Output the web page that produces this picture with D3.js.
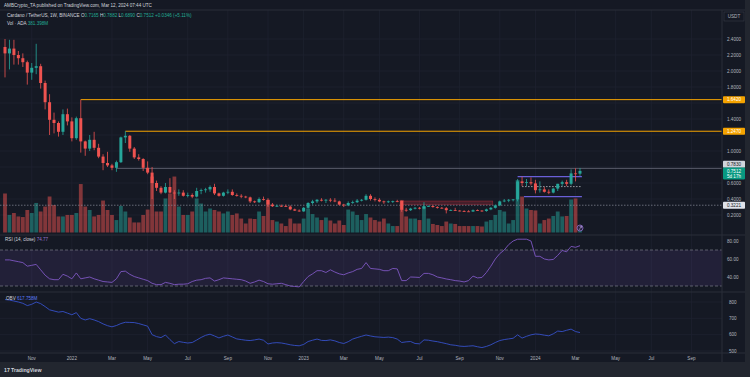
<!DOCTYPE html>
<html>
<head>
<meta charset="utf-8">
<script src="https://cdn.jsdelivr.net/npm/d3@7"></script>
<style>
  body { margin: 0; background: #151924; }
  svg { display: block; }
  text { font-family: "Liberation Sans", Arial, sans-serif; }
</style>
</head>
<body>
<svg id="chart" width="750" height="377"></svg>
<script>
// ADA / USDT weekly, Binance
const firstWeek = "2021-09-20";

const opens = [2.30,2.22,2.28,2.20,2.16,2.11,1.98,2.04,2.06,1.85,1.61,1.39,1.35,1.24,1.46,1.37,1.16,1.41,1.12,1.03,
  1.14,1.04,0.93,0.85,0.82,0.79,0.86,1.17,1.19,1.03,0.92,0.90,0.79,0.73,0.60,0.54,0.48,0.55,0.48,0.47,
  0.48,0.44,0.45,0.43,0.50,0.51,0.52,0.55,0.47,0.44,0.48,0.49,0.45,0.44,0.43,0.42,0.37,0.36,0.40,0.39,
  0.33,0.31,0.315,0.31,0.305,0.27,0.255,0.245,0.29,0.35,0.37,0.39,0.38,0.39,0.38,0.37,0.33,0.32,0.35,0.36,
  0.38,0.39,0.44,0.40,0.39,0.37,0.36,0.37,0.372,0.375,0.265,0.26,0.28,0.29,0.28,0.31,0.312,0.30,0.29,0.285,
  0.26,0.262,0.255,0.25,0.245,0.243,0.26,0.255,0.25,0.27,0.29,0.32,0.37,0.38,0.39,0.395,0.62,0.60,0.61,0.595,
  0.51,0.52,0.49,0.48,0.53,0.59,0.61,0.59,0.72,0.7165];
const highs = [2.40,2.39,2.39,2.25,2.22,2.13,2.10,2.34,2.09,1.88,1.71,1.48,1.37,1.52,1.53,1.42,1.43,1.642,1.13,1.20,
  1.24,1.09,0.96,0.99,0.84,0.88,1.18,1.247,1.20,1.05,0.96,0.91,0.87,0.80,0.63,0.56,0.60,0.66,0.51,0.52,
  0.51,0.48,0.47,0.54,0.53,0.54,0.57,0.59,0.48,0.49,0.52,0.52,0.47,0.46,0.44,0.43,0.38,0.42,0.43,0.41,
  0.35,0.33,0.33,0.33,0.32,0.28,0.27,0.30,0.36,0.39,0.40,0.41,0.40,0.41,0.41,0.38,0.34,0.37,0.38,0.40,
  0.40,0.46,0.46,0.42,0.41,0.38,0.38,0.38,0.39,0.38,0.29,0.29,0.30,0.30,0.36,0.32,0.32,0.31,0.30,0.30,
  0.27,0.29,0.26,0.26,0.26,0.27,0.27,0.26,0.28,0.30,0.33,0.38,0.40,0.40,0.40,0.65,0.68,0.65,0.67,0.64,
  0.62,0.55,0.52,0.54,0.59,0.63,0.64,0.77,0.783,0.7882];
const lows = [1.92,2.02,2.08,2.08,2.05,1.83,1.89,1.96,1.78,1.52,1.20,1.22,1.18,1.20,1.32,1.12,1.14,0.98,0.94,1.00,
  1.01,0.91,0.76,0.80,0.76,0.74,0.85,1.10,0.99,0.90,0.88,0.75,0.71,0.40,0.50,0.46,0.47,0.47,0.40,0.44,
  0.43,0.42,0.41,0.42,0.46,0.48,0.49,0.45,0.43,0.43,0.46,0.44,0.43,0.41,0.41,0.35,0.35,0.35,0.38,0.30,
  0.30,0.30,0.30,0.30,0.26,0.25,0.24,0.24,0.28,0.33,0.35,0.37,0.35,0.36,0.36,0.32,0.30,0.31,0.34,0.35,
  0.37,0.38,0.38,0.37,0.36,0.34,0.35,0.35,0.36,0.24,0.24,0.25,0.27,0.27,0.27,0.30,0.29,0.28,0.28,0.22,
  0.25,0.25,0.245,0.24,0.24,0.24,0.25,0.24,0.24,0.26,0.28,0.31,0.36,0.36,0.37,0.37,0.56,0.56,0.57,0.47,
  0.48,0.48,0.46,0.47,0.50,0.56,0.56,0.57,0.62,0.689];
const closes = [2.22,2.28,2.20,2.16,2.11,1.98,2.04,2.06,1.85,1.61,1.39,1.35,1.24,1.46,1.37,1.16,1.41,1.12,1.03,1.14,
  1.04,0.93,0.85,0.82,0.79,0.86,1.17,1.19,1.03,0.92,0.90,0.79,0.73,0.60,0.54,0.48,0.55,0.48,0.47,0.48,
  0.44,0.45,0.43,0.50,0.51,0.52,0.55,0.47,0.44,0.48,0.49,0.45,0.44,0.43,0.42,0.37,0.36,0.40,0.39,0.33,
  0.31,0.315,0.31,0.305,0.27,0.255,0.245,0.29,0.35,0.37,0.39,0.38,0.39,0.38,0.37,0.33,0.32,0.35,0.36,0.38,
  0.39,0.44,0.40,0.39,0.37,0.36,0.37,0.372,0.37,0.265,0.26,0.28,0.29,0.28,0.31,0.312,0.30,0.29,0.285,0.26,
  0.262,0.255,0.25,0.245,0.243,0.26,0.255,0.25,0.27,0.29,0.32,0.37,0.38,0.39,0.395,0.62,0.60,0.61,0.595,0.51,
  0.52,0.49,0.48,0.53,0.59,0.61,0.59,0.72,0.7165,0.7512];
// weekly volume, millions of ADA
const volumes = [2600,1170,1300,1070,1030,1500,1300,1970,1400,1730,2400,1830,1070,1070,1170,1170,1300,3230,1730,1500,
  1070,1170,2130,1500,1170,830,1770,1400,1000,670,670,1170,1530,3730,1400,1400,2270,2600,3730,1730,
  1170,1170,1400,2270,1930,1400,1600,1500,1400,1270,1400,1170,1270,930,600,930,900,1400,1100,2170,
  830,730,600,430,930,600,600,930,1600,1230,1000,830,1000,800,600,800,500,1530,1400,1170,
  830,1230,1000,830,730,930,600,430,430,2170,1070,930,930,830,1730,930,570,500,430,730,
  600,570,430,430,430,430,430,400,730,830,1170,1500,1400,600,830,3500,2400,1600,1500,1470,
  600,830,930,1100,1400,1070,1100,2200,2270,381];
const rsiValues = [59,59,58,57,56,52,53,54,48,42,38,37,37,43,41,38,44.5,38,39,40,
  38,36.5,35,34.5,34,38,46,46.5,43,40.5,39,37.5,36,33,31.5,31.5,34,33,31.5,32,
  32,32.5,35,36.5,37,38.5,39,35.5,37,39,38.5,38,37.5,37,35.5,33,34.5,36.5,35,32.5,
  32,32.5,33,31.5,30,29.5,29,35,40.5,43.5,47,47,45,48,45.5,43.5,42.5,44.5,46,48.5,
  49.5,56,49.5,49,48.5,47,47,49.5,49,36,36,40,39.8,39.5,44,44,42.5,40,39,37.8,
  37,36,35.5,34.5,36,41,39,39.5,45,52,60,66,70,76,80,82,82,82,80,63,
  63,60,59,59.5,64,69.5,68,74,73,74.77];
const obvValues = [815,812,806,800,792,778,786,800,790,772,752,745,738,742,732,722,735,700,690,698,
  690,680,666,655,648,656,668,676,675,674,668,660,652,600,588,582,598,570,545,558,
  553,549,552,567,583,596,603,592,580,590,598,586,574,570,566,564,568,573,566,543,
  549,551,549,544,538,534,532,540,558,566,573,565,564,568,562,552,546,557,573,582,
  590,598,592,587,585,583,585,582,573,552,556,558,546,544,568,566,561,557,551,545,
  538,535,530,528,530,532,526,521,528,538,552,564,570,574,578,599,579,590,599,604,
  602,597,593,605,622,619,627,634,619,613];

const priceTicks = [0.2,0.4,0.6,0.8,1.0,1.2,1.4,1.6,1.8,2.0,2.2,2.4];
const rsiTicks = [80,60,40];
const obvTicks = [800,700,600,500];
const monthTicks = ["2021-11","2022-01","2022-03","2022-05","2022-07","2022-09","2022-11","2023-01","2023-03",
  "2023-05","2023-07","2023-09","2023-11","2024-01","2024-03","2024-05","2024-07","2024-09"];
const monthLabels = ["Nov","2022","Mar","May","Jul","Sep","Nov","2023","Mar","May","Jul","Sep","Nov","2024","Mar","May","Jul","Sep"];

// drawn levels: price and week index where the line starts
const levelPrices = [1.6420, 1.2470];
const levelStarts = [17, 27];
const resistPrice = 0.7830, resistStart = 25;
const supportPrice = 0.3221;
const zoneLow = 0.333, zoneHigh = 0.375, zoneStart = 89, zoneEnd = 109.5;
const rangeTop = 0.68, rangeMid = 0.555, rangeBottom = 0.43, rangeStart = 115;

const svg = d3.select("#chart");
const plotRight = 722, frameRight = 745;
const mainTop = 10, mainBottom = 235, rsiBottom = 292, obvBottom = 353, footerTop = 362;

const up = "#26a69a", down = "#ef5350";
const axisText = "#b2b5be", gridColor = "#1e2230", sepColor = "#2a2e39";

const t0 = d3.timeParse("%Y-%m-%d")(firstWeek);
const weeks = closes.map((c, i) => ({
  date: d3.timeDay.offset(t0, 7 * i),
  o: opens[i], h: highs[i], l: lows[i], c: c, v: volumes[i]
}));

const x = d3.scaleTime().domain([t0, weeks[weeks.length - 1].date]).range([5, 580]);
const xi = (i) => x(d3.timeDay.offset(t0, 7 * i));
const y = d3.scaleLinear().domain([0, 2.4]).range([231, 39]);
const yVol = d3.scaleLinear().domain([0, 4000]).range([232.5, 172.5]);
const yRsi = d3.scaleLinear().domain([30, 70]).range([286, 250]);
const yObv = d3.scaleLinear().domain([500, 800]).range([351, 302]);

const tickDates = monthTicks.map(s => d3.timeMonday.ceil(d3.timeParse("%Y-%m")(s)));

// backgrounds
svg.append("rect").attr("width", 750).attr("height", 377).attr("fill", "#151924");
svg.append("rect").attr("x", 0).attr("y", footerTop).attr("width", 750).attr("height", 377 - footerTop).attr("fill", "#22262f");
svg.append("rect").attr("x", frameRight).attr("y", 0).attr("width", 750 - frameRight).attr("height", 377).attr("fill", "#22262f");

const defs = svg.append("defs");
defs.append("clipPath").attr("id", "clipMain").append("rect")
  .attr("x", 0).attr("y", mainTop).attr("width", plotRight).attr("height", mainBottom - mainTop);

// grid
const grid = svg.append("g").attr("stroke", gridColor).attr("stroke-width", 0.8);
grid.selectAll("line.v").data(tickDates).join("line")
  .attr("x1", d => x(d)).attr("x2", d => x(d)).attr("y1", mainTop).attr("y2", obvBottom);
grid.selectAll("line.p").data(priceTicks).join("line")
  .attr("x1", 0).attr("x2", plotRight).attr("y1", d => y(d)).attr("y2", d => y(d));
grid.selectAll("line.o").data(obvTicks).join("line")
  .attr("x1", 0).attr("x2", plotRight).attr("y1", d => yObv(d)).attr("y2", d => yObv(d));

// RSI band
svg.append("rect").attr("x", 0).attr("y", yRsi(70)).attr("width", plotRight)
  .attr("height", yRsi(30) - yRsi(70)).attr("fill", "rgba(126,87,194,0.13)");
svg.selectAll("line.band").data([70, 30]).join("line")
  .attr("x1", 0).attr("x2", plotRight).attr("y1", d => yRsi(d)).attr("y2", d => yRsi(d))
  .attr("stroke", "#787b86").attr("stroke-width", 0.7).attr("stroke-dasharray", "3,2");

const main = svg.append("g").attr("clip-path", "url(#clipMain)");

// volume
main.selectAll("rect.vol").data(weeks).join("rect")
  .attr("x", d => x(d.date) - 1.9).attr("width", 3.8)
  .attr("y", d => yVol(d.v)).attr("height", d => yVol(0) - yVol(d.v))
  .attr("fill", d => d.c >= d.o ? "rgba(38,166,154,0.5)" : "rgba(239,83,80,0.5)");

// red zone
main.append("rect").attr("x", xi(zoneStart)).attr("width", xi(zoneEnd) - xi(zoneStart))
  .attr("y", y(zoneHigh)).attr("height", y(zoneLow) - y(zoneHigh))
  .attr("fill", "rgba(242,54,69,0.22)").attr("stroke", "rgba(242,54,69,0.5)").attr("stroke-width", 0.6);

// horizontal levels
main.selectAll("line.lvl").data(levelPrices).join("line")
  .attr("x1", (d, i) => xi(levelStarts[i])).attr("x2", plotRight)
  .attr("y1", d => y(d)).attr("y2", d => y(d))
  .attr("stroke", "#f5a300").attr("stroke-width", 1);
main.append("line").attr("x1", xi(resistStart)).attr("x2", plotRight)
  .attr("y1", y(resistPrice)).attr("y2", y(resistPrice))
  .attr("stroke", "#6b6f7c").attr("stroke-width", 0.8);
main.append("line").attr("x1", 0).attr("x2", plotRight)
  .attr("y1", y(supportPrice)).attr("y2", y(supportPrice))
  .attr("stroke", "#8a8e99").attr("stroke-width", 0.7).attr("stroke-dasharray", "1.5,1.5");

// range drawing
main.append("line").attr("x1", xi(rangeStart)).attr("x2", xi(129.5))
  .attr("y1", y(rangeTop)).attr("y2", y(rangeTop)).attr("stroke", "#6a5fd8").attr("stroke-width", 1.2);
main.append("line").attr("x1", xi(rangeStart + 1)).attr("x2", xi(129.5))
  .attr("y1", y(rangeMid)).attr("y2", y(rangeMid)).attr("stroke", "#d1d4dc")
  .attr("stroke-width", 0.7).attr("stroke-dasharray", "1.5,1.5");
main.append("line").attr("x1", xi(rangeStart + 1.5)).attr("x2", xi(129.5))
  .attr("y1", y(rangeBottom)).attr("y2", y(rangeBottom)).attr("stroke", "#6a5fd8").attr("stroke-width", 1.2);

// candles
main.selectAll("line.wick").data(weeks).join("line")
  .attr("x1", d => x(d.date)).attr("x2", d => x(d.date))
  .attr("y1", d => y(d.h)).attr("y2", d => y(d.l))
  .attr("stroke", d => d.c >= d.o ? up : down).attr("stroke-width", 0.8);
main.selectAll("rect.body").data(weeks).join("rect")
  .attr("x", d => x(d.date) - 1.5).attr("width", 3)
  .attr("y", d => y(Math.max(d.o, d.c)))
  .attr("height", d => Math.max(0.8, Math.abs(y(d.o) - y(d.c))))
  .attr("fill", d => d.c >= d.o ? up : down);

// small marker under last bar
svg.append("circle").attr("cx", 580).attr("cy", 228).attr("r", 3)
  .attr("fill", "#2b2442").attr("stroke", "#9c7ae0").attr("stroke-width", 0.7);
svg.append("path").attr("d", "M579,230 L581.5,226 M581.5,226 L581.5,228 M581.5,226 L579.6,226.4")
  .attr("stroke", "#b39ddb").attr("stroke-width", 0.6).attr("fill", "none");

// RSI & OBV lines
svg.append("path").datum(rsiValues)
  .attr("d", d3.line().x((d, i) => xi(i)).y(d => yRsi(d)))
  .attr("fill", "none").attr("stroke", "#7e57c2").attr("stroke-width", 0.9);
svg.append("path").datum(obvValues)
  .attr("d", d3.line().x((d, i) => xi(i)).y(d => yObv(d)))
  .attr("fill", "none").attr("stroke", "#3550c8").attr("stroke-width", 0.9);

// separators
const sep = svg.append("g").attr("stroke", sepColor).attr("stroke-width", 1);
sep.append("line").attr("x1", 0).attr("x2", frameRight).attr("y1", mainTop).attr("y2", mainTop);
[mainBottom, rsiBottom, obvBottom].forEach(v =>
  sep.append("line").attr("x1", 0).attr("x2", frameRight).attr("y1", v).attr("y2", v));
sep.append("line").attr("x1", plotRight).attr("x2", plotRight).attr("y1", mainTop).attr("y2", footerTop);

// price tag positions, so that covered axis labels are skipped
const last = closes[closes.length - 1];
const tagYs = levelPrices.map(p => y(p)).concat([y(resistPrice) - 4, y(last) + 2.5, y(supportPrice)]);

// axis labels
const fs = 4.6;
const axisG = svg.append("g").attr("font-size", fs).attr("fill", axisText);
axisG.selectAll("text.p").data(priceTicks.filter(p => tagYs.every(t => Math.abs(t - y(p)) > 6))).join("text")
  .attr("x", 727).attr("y", d => y(d) + 1.6).text(d => d.toFixed(4));
axisG.selectAll("text.r").data(rsiTicks).join("text")
  .attr("x", 727).attr("y", d => yRsi(d) + 1.6).text(d => d.toFixed(2));
axisG.selectAll("text.o").data(obvTicks).join("text")
  .attr("x", 729).attr("y", d => yObv(d) + 1.6).text(d => d);
axisG.selectAll("text.t").data(tickDates).join("text")
  .attr("x", d => x(d)).attr("y", 359.5).attr("text-anchor", "middle")
  .text((d, i) => monthLabels[i]);

// price tags
function tag(yc, label, fill, color, h) {
  svg.append("rect").attr("x", plotRight + 1).attr("y", yc - h / 2).attr("width", 22).attr("height", h)
    .attr("rx", 0.8).attr("fill", fill);
  svg.append("text").attr("x", plotRight + 12).attr("y", yc + 1.6).attr("text-anchor", "middle")
    .attr("font-size", fs).attr("fill", color).text(label);
}
levelPrices.forEach(p => tag(y(p), p.toFixed(4), "#f5a300", "#fff", 7));
tag(y(resistPrice) - 4, resistPrice.toFixed(4), "#d1d4dc", "#131722", 7);
svg.append("rect").attr("x", plotRight + 1).attr("y", y(last) - 3.5).attr("width", 22).attr("height", 12)
  .attr("rx", 0.8).attr("fill", "#089981");
svg.append("text").attr("x", plotRight + 12).attr("y", y(last) + 1.6).attr("text-anchor", "middle")
  .attr("font-size", fs).attr("fill", "#fff").text(last.toFixed(4));
svg.append("text").attr("x", plotRight + 12).attr("y", y(last) + 6.8).attr("text-anchor", "middle")
  .attr("font-size", fs).attr("fill", "#fff").text("5d 17h");
tag(y(supportPrice), supportPrice.toFixed(4), "#e0e3eb", "#131722", 7);

// USDT box
svg.append("rect").attr("x", plotRight + 2).attr("y", 12).attr("width", 20).attr("height", 9)
  .attr("fill", "#151924").attr("stroke", "#363a45").attr("stroke-width", 0.6);
svg.append("text").attr("x", plotRight + 12).attr("y", 18.2).attr("text-anchor", "middle")
  .attr("font-size", fs).attr("fill", axisText).text("USDT");

// header & legends
svg.append("text").attr("x", 4).attr("y", 7).attr("font-size", fs).attr("fill", "#d1d4dc")
  .text("AMBCrypto_TA published on TradingView.com, Mar 12, 2024 07:44 UTC");

const green = "#22ab94";
const leg1 = svg.append("text").attr("x", 7).attr("y", 17).attr("font-size", fs).attr("fill", "#d1d4dc");
leg1.append("tspan").text("Cardano / TetherUS, 1W, BINANCE  ");
[["O", "0.7165"], ["H", "0.7882"], ["L", "0.6890"], ["C", "0.7512"]].forEach(([k, v]) => {
  leg1.append("tspan").attr("fill", "#d1d4dc").text(" " + k);
  leg1.append("tspan").attr("fill", green).text(v);
});
leg1.append("tspan").attr("fill", green).text(" +0.0346 (+5.11%)");
const leg2 = svg.append("text").attr("x", 7).attr("y", 24.5).attr("font-size", fs).attr("fill", "#d1d4dc");
leg2.append("tspan").text("Vol · ADA  ");
leg2.append("tspan").attr("fill", green).text("381.398M");

const leg3 = svg.append("text").attr("x", 5).attr("y", 241).attr("font-size", fs).attr("fill", "#d1d4dc");
leg3.append("tspan").text("RSI (14, close)  ");
leg3.append("tspan").attr("fill", "#9575cd").text("74.77");

const leg4 = svg.append("text").attr("x", 6).attr("y", 300).attr("font-size", fs).attr("fill", "#d1d4dc");
leg4.append("tspan").text("OBV  ");
leg4.append("tspan").attr("fill", "#5b7cf5").text("617.758M");

// footer logo
svg.append("text").attr("x", 4).attr("y", 371.5).attr("font-size", 5.2).attr("font-weight", "bold")
  .attr("fill", "#d1d4dc").text("17");
svg.append("text").attr("x", 11).attr("y", 371.5).attr("font-size", 5.2).attr("font-weight", "bold")
  .attr("fill", "#d1d4dc").text("TradingView");
</script>
</body>
</html>
